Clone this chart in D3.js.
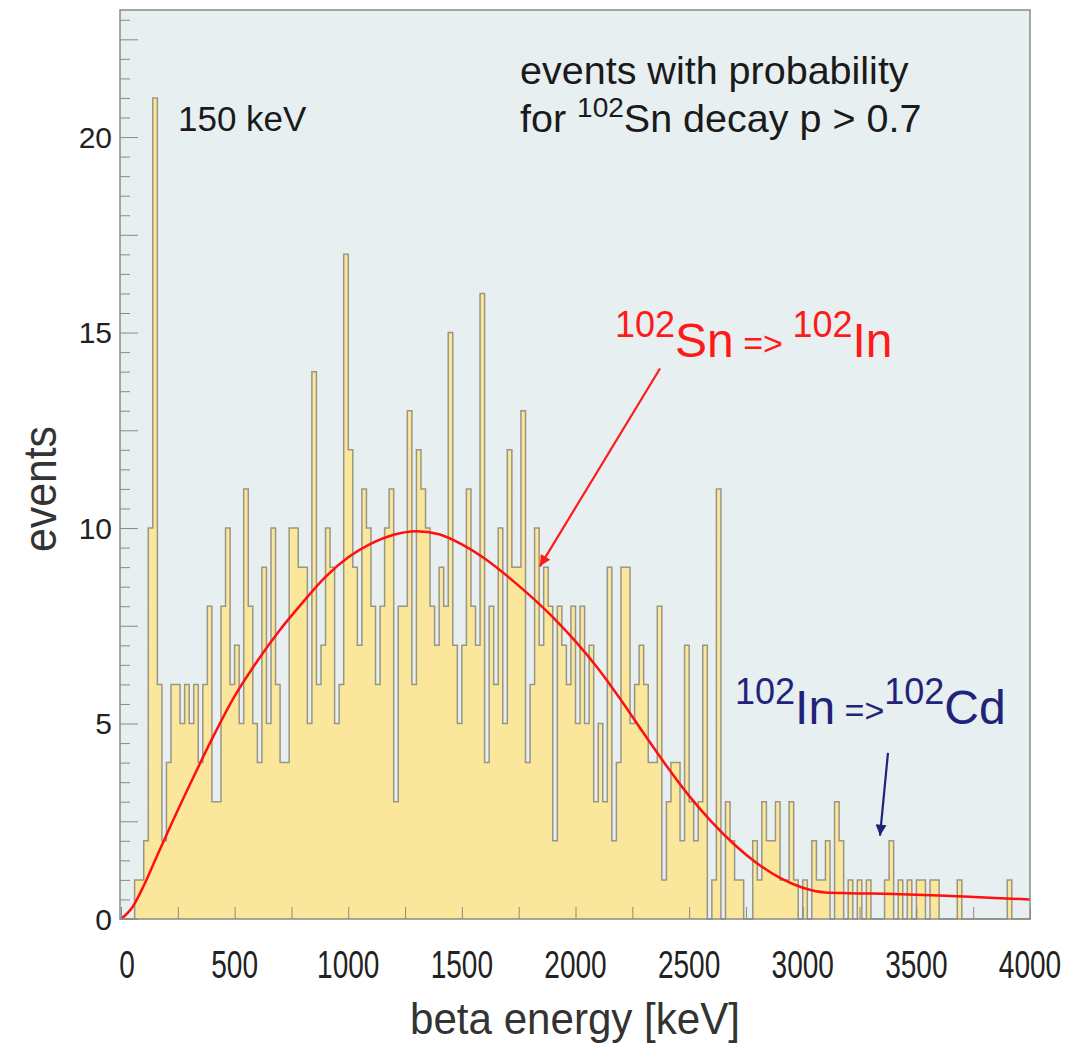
<!DOCTYPE html>
<html>
<head>
<meta charset="utf-8">
<script src="https://cdn.jsdelivr.net/npm/d3@7"></script>
<style>
  body { margin: 0; background: #fff; }
  text { font-family: "Liberation Sans", Arial, sans-serif; }
</style>
</head>
<body>
<div id="wrapper"></div>
<script>
// histogram: 20 keV bins from 0 to 4000 keV
const binWidth = 20;
const counts = [
  0, 0, 0, 1, 1, 2, 10, 21, 6, 2, 4, 6, 6, 5, 6, 5, 6, 4, 6, 8,
  3, 3, 8, 10, 6, 7, 5, 11, 8, 5, 4, 9, 5, 10, 6, 4, 4, 10, 10, 9,
  9, 5, 14, 6, 7, 10, 9, 5, 6, 17, 12, 9, 7, 11, 10, 8, 6, 8, 10, 11,
  3, 8, 8, 13, 6, 12, 11, 10, 8, 7, 9, 8, 15, 7, 5, 7, 11, 8, 7, 16,
  4, 8, 6, 10, 5, 12, 9, 9, 13, 4, 6, 10, 7, 9, 8, 2, 8, 7, 6, 8,
  5, 8, 5, 7, 3, 5, 3, 9, 2, 4, 9, 9, 5, 6, 7, 6, 4, 4, 8, 1,
  3, 4, 4, 2, 7, 3, 2, 3, 7, 0, 1, 11, 0, 3, 2, 1, 1, 0, 0, 2,
  1, 3, 2, 2, 3, 1, 1, 3, 1, 0, 1, 0, 2, 1, 1, 2, 0, 3, 2, 0,
  1, 0, 1, 0, 1, 0, 0, 0, 1, 2, 0, 1, 0, 1, 0, 1, 1, 0, 1, 1,
  0, 0, 0, 0, 1, 0, 0, 0, 0, 0, 0, 0, 0, 0, 0, 1, 0, 0, 0, 0
];

// fitted curve
const fitEnergy = [0, 50, 100, 150, 200, 300, 400, 500, 600, 700, 800, 900, 1000, 1100, 1200, 1300,
  1400, 1500, 1600, 1700, 1800, 1900, 2000, 2100, 2200, 2300, 2400, 2500, 2600, 2700, 2800, 2900,
  3000, 3100, 3200, 3400, 3600, 3800, 4000];
const fitValue = [0, 0.3, 0.85, 1.5, 2.15, 3.4, 4.6, 5.7, 6.6, 7.4, 8.1, 8.75, 9.25, 9.6, 9.83, 9.92,
  9.84, 9.58, 9.22, 8.77, 8.27, 7.72, 7.1, 6.4, 5.6, 4.75, 3.92, 3.15, 2.48, 1.9, 1.42, 1.05,
  0.8, 0.68, 0.66, 0.64, 0.6, 0.55, 0.5];

const xTicks = [0, 500, 1000, 1500, 2000, 2500, 3000, 3500, 4000];
const yTicks = [0, 5, 10, 15, 20];

var dimension = {
    width: 1073,
    height: 1044,
    margin: { top: 10, left: 121, bottom: 125, right: 43 }
};
dimension.boundedWidth = dimension.width - dimension.margin.left - dimension.margin.right;
dimension.boundedHeight = dimension.height - dimension.margin.top - dimension.margin.bottom;

const svg = d3.select("#wrapper").append("svg")
    .attr("width", dimension.width)
    .attr("height", dimension.height);

const xScaler = d3.scaleLinear()
    .domain([0, 4000])
    .range([dimension.margin.left, dimension.margin.left + dimension.boundedWidth]);

const yScaler = d3.scaleLinear()
    .domain([0, 23.25])
    .range([dimension.margin.top + dimension.boundedHeight, dimension.margin.top]);

// plot background
svg.append("rect")
    .attr("x", xScaler(0) - 1)
    .attr("y", yScaler(23.25))
    .attr("width", xScaler(4000) - xScaler(0) + 1)
    .attr("height", yScaler(0) - yScaler(23.25))
    .attr("fill", "#e7eff1");

// histogram
const histData = counts.map((c, i) => ({ e: i * binWidth, c: c }));
histData.push({ e: counts.length * binWidth, c: counts[counts.length - 1] });

const area = d3.area()
    .x(d => xScaler(d.e))
    .y0(yScaler(0))
    .y1(d => yScaler(d.c))
    .curve(d3.curveStepAfter);

svg.append("path")
    .attr("d", area(histData))
    .attr("fill", "#fae79b");

const step = d3.line()
    .x(d => xScaler(d.e))
    .y(d => yScaler(d.c))
    .curve(d3.curveStepAfter);

svg.append("path")
    .attr("d", step(histData))
    .attr("fill", "none")
    .attr("stroke", "#9a9684")
    .attr("stroke-width", 1.5);

// fit curve
const fitData = fitEnergy.map((e, i) => ({ e: e, v: fitValue[i] }));
svg.append("path")
    .attr("d", d3.line()
        .x(d => xScaler(d.e))
        .y(d => yScaler(d.v))
        .curve(d3.curveMonotoneX)(fitData))
    .attr("fill", "none")
    .attr("stroke", "#ff1010")
    .attr("stroke-width", 2.5);

// axes (ticks drawn inside the frame)
const yAxis = d3.axisRight(yScaler)
    .tickValues(d3.range(0, 23.01, 0.5))
    .tickSize(10)
    .tickFormat("");
const yG = svg.append("g")
    .attr("transform", `translate(${xScaler(0) - 1},0)`)
    .call(yAxis);
yG.selectAll(".tick line")
    .attr("x2", d => (d % 2.5 === 0 ? 18 : 10))
    .attr("stroke", "#8a8a8a");
yG.select(".domain").remove();

const xAxis = d3.axisTop(xScaler)
    .tickValues(d3.range(0, 4001, 250))
    .tickSize(12)
    .tickFormat("");
const xG = svg.append("g")
    .attr("transform", `translate(0,${yScaler(0)})`)
    .call(xAxis);
xG.selectAll(".tick line").attr("stroke", "#8a8a8a");
xG.select(".domain").remove();

// frame
svg.append("rect")
    .attr("x", xScaler(0) - 1)
    .attr("y", yScaler(23.25))
    .attr("width", xScaler(4000) - xScaler(0) + 1)
    .attr("height", yScaler(0) - yScaler(23.25))
    .attr("fill", "none")
    .attr("stroke", "#8a8a8a")
    .attr("stroke-width", 1.5);

// tick labels
svg.append("g").selectAll("text")
    .data(yTicks)
    .join("text")
    .attr("x", 112)
    .attr("y", d => yScaler(d))
    .attr("dy", "0.36em")
    .attr("text-anchor", "end")
    .attr("font-size", 30)
    .attr("fill", "#222")
    .text(d => d);

// x labels are condensed in the original
svg.append("g").selectAll("text")
    .data(xTicks)
    .join("text")
    .attr("x", d => xScaler(d) + (d === 0 ? 6 : 0))
    .attr("y", 978)
    .attr("text-anchor", "middle")
    .attr("font-size", 39)
    .attr("textLength", d => String(d).length * 15.6)
    .attr("lengthAdjust", "spacingAndGlyphs")
    .attr("fill", "#222")
    .text(d => d);

// axis titles
svg.append("text")
    .attr("transform", "translate(56,489) rotate(-90)")
    .attr("text-anchor", "middle")
    .attr("font-size", 46)
    .attr("textLength", 126)
    .attr("lengthAdjust", "spacingAndGlyphs")
    .attr("fill", "#333")
    .text("events");

svg.append("text")
    .attr("x", 575)
    .attr("y", 1034)
    .attr("text-anchor", "middle")
    .attr("font-size", 44)
    .attr("textLength", 330)
    .attr("lengthAdjust", "spacingAndGlyphs")
    .attr("fill", "#333")
    .text("beta energy [keV]");

// annotations
svg.append("text")
    .attr("x", 178)
    .attr("y", 131)
    .attr("font-size", 35)
    .attr("fill", "#1a1a1a")
    .text("150 keV");

svg.append("text")
    .attr("x", 520)
    .attr("y", 84)
    .attr("font-size", 39.5)
    .attr("fill", "#1a1a1a")
    .text("events with probability");

const t2 = svg.append("text")
    .attr("x", 520)
    .attr("y", 132)
    .attr("font-size", 39.5)
    .attr("fill", "#1a1a1a");
t2.append("tspan").text("for ");
t2.append("tspan").attr("y", 117).attr("font-size", 28).text("102");
t2.append("tspan").attr("y", 132).text("Sn decay p > 0.7");

function nuclideLabel(x, y, color, parts) {
    const t = svg.append("text")
        .attr("x", x)
        .attr("y", y)
        .attr("fill", color);
    parts.forEach(p => {
        t.append("tspan")
            .attr("y", y + p.dy)
            .attr("font-size", p.size)
            .text(p.text);
    });
}

nuclideLabel(615, 357, "#ff1a1a", [
    { text: "102", size: 36, dy: -20 },
    { text: "Sn", size: 48, dy: 0 },
    { text: " => ", size: 34, dy: -2 },
    { text: "102", size: 36, dy: -20 },
    { text: "In", size: 48, dy: 0 }
]);

nuclideLabel(735, 724, "#1f237a", [
    { text: "102", size: 36, dy: -20 },
    { text: "In", size: 48, dy: 0 },
    { text: " =>", size: 34, dy: -2 },
    { text: "102", size: 36, dy: -20 },
    { text: "Cd", size: 48, dy: 0 }
]);

// arrows
const defs = svg.append("defs");
function arrowMarker(id, color) {
    defs.append("marker")
        .attr("id", id)
        .attr("viewBox", "0 0 10 10")
        .attr("refX", 10)
        .attr("refY", 5)
        .attr("markerWidth", 7)
        .attr("markerHeight", 5)
        .attr("markerUnits", "strokeWidth")
        .attr("orient", "auto")
        .append("path")
        .attr("d", "M0,0 L10,5 L0,10 z")
        .attr("fill", color);
}
arrowMarker("arrowRed", "#ff1a1a");
arrowMarker("arrowBlue", "#1f237a");

svg.append("line")
    .attr("x1", xScaler(2372)).attr("y1", yScaler(14.08))
    .attr("x2", xScaler(1843)).attr("y2", yScaler(9.02))
    .attr("stroke", "#ff1a1a")
    .attr("stroke-width", 2.2)
    .attr("marker-end", "url(#arrowRed)");

svg.append("line")
    .attr("x1", xScaler(3375)).attr("y1", yScaler(4.25))
    .attr("x2", xScaler(3340)).attr("y2", yScaler(2.13))
    .attr("stroke", "#1f237a")
    .attr("stroke-width", 2.2)
    .attr("marker-end", "url(#arrowBlue)");
</script>
</body>
</html>
